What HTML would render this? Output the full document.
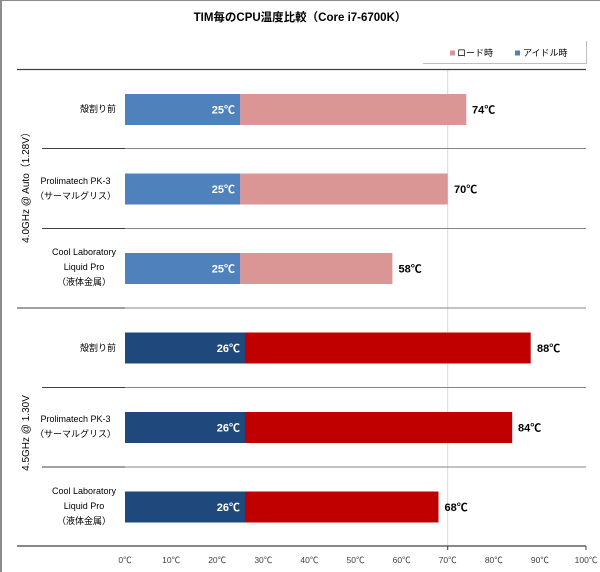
<!DOCTYPE html>
<html><head><meta charset="utf-8">
<style>
html,body{margin:0;padding:0;background:#fff;}
#c{position:relative;width:600px;height:572px;overflow:hidden;background:#fff;font-family:"Liberation Sans","Noto Sans CJK JP",sans-serif;}
svg{position:absolute;left:0;top:0;}
.cat{position:absolute;right:484px;text-align:center;font-size:9px;line-height:15px;color:#000;white-space:nowrap;}
</style></head>
<body><div id="c">
<svg width="600" height="572" viewBox="0 0 600 572" font-family="Liberation Sans, Noto Sans CJK JP, sans-serif">
  <!-- outer border -->
  <rect x="0" y="0" width="2" height="572" fill="#8c8c8c"/>
  <rect x="0" y="0" width="600" height="1" fill="#8c8c8c"/>
  <!-- title -->
  <text x="300" y="21" text-anchor="middle" font-size="11.5" font-weight="bold" fill="#000">TIM毎のCPU温度比較（Core i7-6700K）</text>
  <!-- legend -->
  <line x1="423" y1="63.5" x2="586.5" y2="63.5" stroke="#bfbfbf" stroke-width="1"/>
  <line x1="586.5" y1="41" x2="586.5" y2="64" stroke="#bfbfbf" stroke-width="1"/>
  <rect x="450" y="50.5" width="5" height="5" fill="#D99694"/>
  <text x="457" y="56" font-size="9" fill="#000">ロード時</text>
  <rect x="515" y="50.5" width="5" height="5" fill="#4F81BD"/>
  <text x="523" y="56" font-size="9" fill="#000">アイドル時</text>
  <!-- gridline at 70 -->
  <line x1="447.7" y1="69" x2="447.7" y2="550" stroke="#d9d9d9" stroke-width="1"/>
  <!-- separators -->
  <line x1="17" y1="69.5" x2="586" y2="69.5" stroke="#404040" stroke-width="1.2"/>
  <line x1="42" y1="148.5" x2="125" y2="148.5" stroke="#404040" stroke-width="1"/>
  <line x1="125" y1="148.5" x2="586" y2="148.5" stroke="#868686" stroke-width="1"/>
  <line x1="42" y1="228.5" x2="125" y2="228.5" stroke="#404040" stroke-width="1"/>
  <line x1="125" y1="228.5" x2="586" y2="228.5" stroke="#868686" stroke-width="1"/>
  <line x1="17" y1="308" x2="125" y2="308" stroke="#404040" stroke-width="1"/>
  <line x1="125" y1="308" x2="586" y2="308" stroke="#868686" stroke-width="1"/>
  <line x1="42" y1="387.5" x2="125" y2="387.5" stroke="#404040" stroke-width="1"/>
  <line x1="125" y1="387.5" x2="586" y2="387.5" stroke="#868686" stroke-width="1"/>
  <line x1="42" y1="467" x2="125" y2="467" stroke="#404040" stroke-width="1"/>
  <line x1="125" y1="467" x2="586" y2="467" stroke="#868686" stroke-width="1"/>
  <line x1="17" y1="546" x2="586" y2="546" stroke="#404040" stroke-width="1.2"/>
  <line x1="447.7" y1="546" x2="447.7" y2="550" stroke="#404040" stroke-width="1"/>
  <line x1="586" y1="546" x2="586" y2="550" stroke="#404040" stroke-width="1"/>

  <!-- group 1 bars -->
  <rect x="125" y="94" width="115.3" height="31" fill="#4F81BD"/>
  <rect x="240.3" y="94" width="226" height="31" fill="#D99694"/>
  <rect x="125" y="173.5" width="115.3" height="31" fill="#4F81BD"/>
  <rect x="240.3" y="173.5" width="207.4" height="31" fill="#D99694"/>
  <rect x="125" y="253" width="115.3" height="31" fill="#4F81BD"/>
  <rect x="240.3" y="253" width="152.1" height="31" fill="#D99694"/>
  <!-- group 2 bars -->
  <rect x="125" y="332.5" width="120" height="31" fill="#1F497D"/>
  <rect x="245" y="332.5" width="285.7" height="31" fill="#C00000"/>
  <rect x="125" y="412" width="120" height="31" fill="#1F497D"/>
  <rect x="245" y="412" width="267.2" height="31" fill="#C00000"/>
  <rect x="125" y="491.5" width="120" height="31" fill="#1F497D"/>
  <rect x="245" y="491.5" width="193.5" height="31" fill="#C00000"/>

  <!-- value labels -->
  <g font-size="11" font-weight="bold">
    <text x="235" y="113.5" text-anchor="end" fill="#fff">25℃</text>
    <text x="235" y="193" text-anchor="end" fill="#fff">25℃</text>
    <text x="235" y="272.5" text-anchor="end" fill="#fff">25℃</text>
    <text x="240" y="352" text-anchor="end" fill="#fff">26℃</text>
    <text x="240" y="431.5" text-anchor="end" fill="#fff">26℃</text>
    <text x="240" y="511" text-anchor="end" fill="#fff">26℃</text>
    <text x="472" y="113.5" fill="#000">74℃</text>
    <text x="454" y="193" fill="#000">70℃</text>
    <text x="398.5" y="272.5" fill="#000">58℃</text>
    <text x="537" y="352" fill="#000">88℃</text>
    <text x="518" y="431.5" fill="#000">84℃</text>
    <text x="444.5" y="511" fill="#000">68℃</text>
  </g>

  <!-- tick labels -->
  <g font-size="8.5" fill="#404040" text-anchor="middle">
    <text x="125" y="563">0℃</text>
    <text x="171.1" y="563">10℃</text>
    <text x="217.2" y="563">20℃</text>
    <text x="263.3" y="563">30℃</text>
    <text x="309.4" y="563">40℃</text>
    <text x="355.5" y="563">50℃</text>
    <text x="401.6" y="563">60℃</text>
    <text x="447.7" y="563">70℃</text>
    <text x="493.8" y="563">80℃</text>
    <text x="539.9" y="563">90℃</text>
    <text x="586" y="563">100℃</text>
  </g>

  <!-- group labels -->
  <text transform="translate(29,185) rotate(-90)" text-anchor="middle" font-size="10" fill="#000">4.0GHz @ Auto（1.28V）</text>
  <text transform="translate(29,433) rotate(-90)" text-anchor="middle" font-size="10" fill="#000">4.5GHz @ 1.30V</text>
</svg>

<div class="cat" style="top:101.5px;">殻割り前</div>
<div class="cat" style="top:173.5px;">Prolimatech PK-3<br>（サーマルグリス）</div>
<div class="cat" style="top:245px;">Cool Laboratory<br>Liquid Pro<br>（液体金属）</div>
<div class="cat" style="top:340.5px;">殻割り前</div>
<div class="cat" style="top:412px;">Prolimatech PK-3<br>（サーマルグリス）</div>
<div class="cat" style="top:484px;">Cool Laboratory<br>Liquid Pro<br>（液体金属）</div>
</div></body></html>
